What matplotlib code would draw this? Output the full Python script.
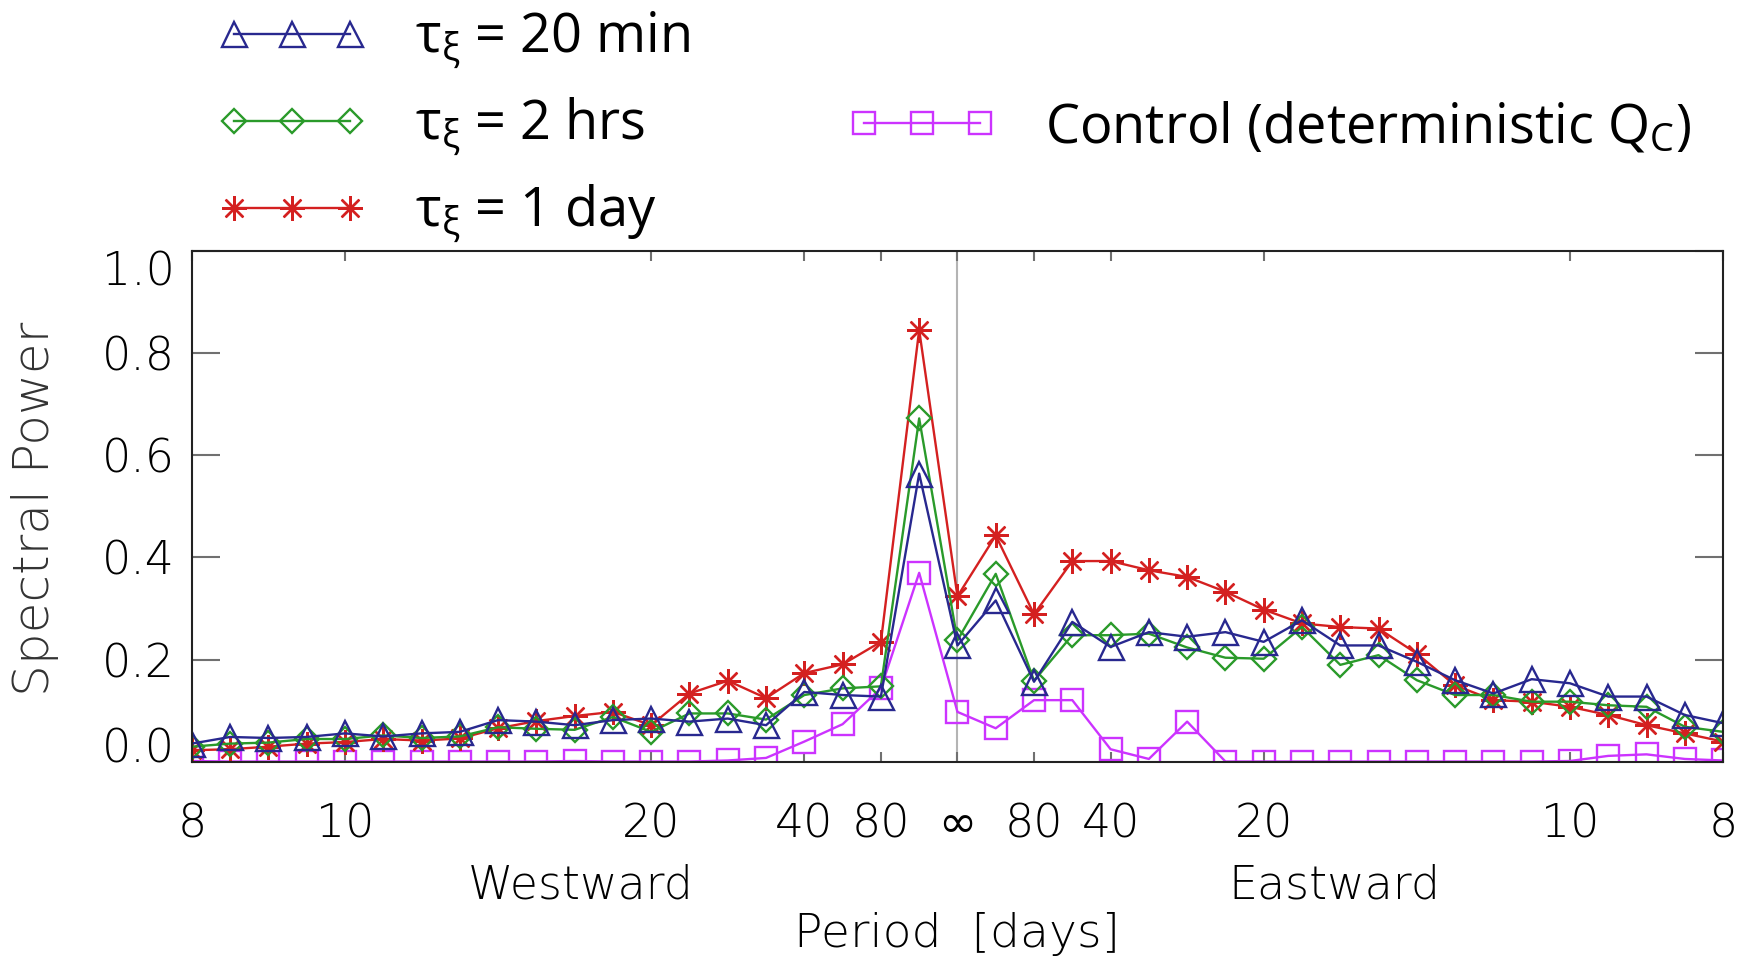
import numpy as np
import matplotlib
matplotlib.use('Agg')
import matplotlib.pyplot as plt
import matplotlib.transforms as mtransforms

plt.rcParams['mathtext.fontset'] = 'custom'
plt.rcParams['mathtext.rm'] = 'Open Sans'
plt.rcParams['mathtext.it'] = 'Open Sans'
plt.rcParams['mathtext.bf'] = 'Open Sans'

# zonal frequency index k -> frequency k/160 cycles/day (negative = westward)
k_index = np.arange(-20, 21)
freq = k_index / 160.0

tau_20min = [0.036, 0.049, 0.047, 0.049, 0.056, 0.050, 0.056, 0.059, 0.082, 0.079,
             0.072, 0.082, 0.085, 0.079, 0.085, 0.072, 0.137, 0.131, 0.128, 0.564,
             0.228,
             0.316, 0.157, 0.274, 0.225, 0.254, 0.245, 0.254, 0.235, 0.277, 0.228,
             0.228, 0.196, 0.160, 0.134, 0.162, 0.154, 0.128, 0.128, 0.092, 0.076]
tau_2hrs = [0.030, 0.036, 0.038, 0.045, 0.045, 0.052, 0.047, 0.050, 0.068, 0.065,
            0.063, 0.088, 0.059, 0.095, 0.095, 0.083, 0.131, 0.144, 0.148, 0.672,
            0.238,
            0.368, 0.159, 0.248, 0.248, 0.251, 0.224, 0.204, 0.202, 0.264, 0.190,
            0.209, 0.160, 0.131, 0.131, 0.118, 0.118, 0.111, 0.108, 0.069, 0.059]
tau_1day = [0.023, 0.025, 0.030, 0.036, 0.039, 0.045, 0.042, 0.046, 0.066, 0.080,
            0.090, 0.098, 0.072, 0.134, 0.159, 0.125, 0.174, 0.191, 0.235, 0.845,
            0.324,
            0.443, 0.289, 0.393, 0.393, 0.375, 0.362, 0.333, 0.298, 0.271, 0.264,
            0.261, 0.212, 0.150, 0.121, 0.118, 0.108, 0.092, 0.072, 0.056, 0.040]
control = [0.002, 0.001, 0.001, 0.001, 0.001, 0.001, 0.001, 0.001, 0.001, 0.001,
           0.002, 0.001, 0.001, 0.001, 0.003, 0.008, 0.040, 0.074, 0.144, 0.370,
           0.098,
           0.066, 0.121, 0.121, 0.025, 0.006, 0.079, 0.001, 0.001, 0.001, 0.001,
           0.001, 0.001, 0.001, 0.001, 0.001, 0.002, 0.012, 0.015, 0.006, 0.003]

period_ticks = [8, 10, 20, 40, 80]
y_ticks = [0.0, 0.2, 0.4, 0.6, 0.8, 1.0]

axis_font = dict(family='DejaVu Sans', weight='light')
legend_font = {'family': 'Open Sans', 'size': 39}

fig = plt.figure(figsize=(17.44, 9.63), dpi=100)
ax = fig.add_axes([0.110, 0.2087, 0.878, 0.531])

ax.axvline(0, color='#b4b4b4', lw=1.5, zorder=0)

styles = [
    (control, '#cc33ff', 's', 16, 'Control (deterministic Q$_C$)'),
    (tau_1day, '#d42020', (8, 2, 0), 18, r'τ$_\xi$ = 1 day'),
    (tau_2hrs, '#2a9a2a', 'D', 12, r'τ$_\xi$ = 2 hrs'),
    (tau_20min, '#28288f', '^', 18, r'τ$_\xi$ = 20 min'),
]
handles = {}
for vals, col, mk, ms, lab in styles:
    ln, = ax.plot(freq, vals, color=col, lw=1.7, marker=mk, ms=ms,
                  mfc='none', mec=col, mew=1.7, label=lab)
    handles[lab] = ln

ax.set_xlim(-0.125, 0.125)
ax.set_ylim(0, 1)

xt = [-1.0 / p for p in period_ticks] + [0.0] + [1.0 / p for p in period_ticks[::-1]]
xl = [str(p) for p in period_ticks] + ['∞'] + [str(p) for p in period_ticks[::-1]]
ax.set_xticks(xt)
xlabs = ax.set_xticklabels(xl, fontsize=33, **axis_font)
# the light face has no infinity sign
xlabs[len(period_ticks)].set_fontweight('normal')
ax.set_yticks(y_ticks)
ylabs = ax.set_yticklabels(['%.1f' % v for v in y_ticks], fontsize=33, **axis_font)
ylabs[0].set_va('baseline')
ylabs[-1].set_va('top')

ax.tick_params(axis='x', direction='in', length=7, width=1.5, color='#707070',
               top=True, pad=29)
ax.tick_params(axis='y', direction='in', length=20, width=1.5, color='#707070',
               right=True, pad=12)
for s in ax.spines.values():
    s.set_linewidth(1.5)
    s.set_color('#222222')

trans = mtransforms.blended_transform_factory(ax.transData, ax.transAxes)
ax.text(-0.0615, -0.242, 'Westward', transform=trans, ha='center', va='center',
        fontsize=33, **axis_font)
ax.text(0.0615, -0.242, 'Eastward', transform=trans, ha='center', va='center',
        fontsize=33, **axis_font)
fig.text(0.549, 0.030, 'Period  [days]', ha='center', va='center',
         fontsize=34, **axis_font)
fig.text(0.020, 0.472, 'Spectral Power', rotation=90, ha='center', va='center',
         fontsize=36, color='#333333', **axis_font)

left_labels = [r'τ$_\xi$ = 20 min', r'τ$_\xi$ = 2 hrs', r'τ$_\xi$ = 1 day']
fig.legend([handles[l] for l in left_labels], left_labels, loc='upper left',
           bbox_to_anchor=(0.125, 0.990), frameon=False, numpoints=3,
           handlelength=2.73, handletextpad=0.9, labelspacing=0.44,
           borderpad=0, borderaxespad=0, prop=legend_font)
ctl = 'Control (deterministic Q$_C$)'
fig.legend([handles[ctl]], [ctl], loc='center left',
           bbox_to_anchor=(0.4863, 0.8675), frameon=False, numpoints=3,
           handlelength=2.73, handletextpad=0.9,
           borderpad=0, borderaxespad=0, prop=legend_font)

plt.savefig('out.png', dpi=100)
